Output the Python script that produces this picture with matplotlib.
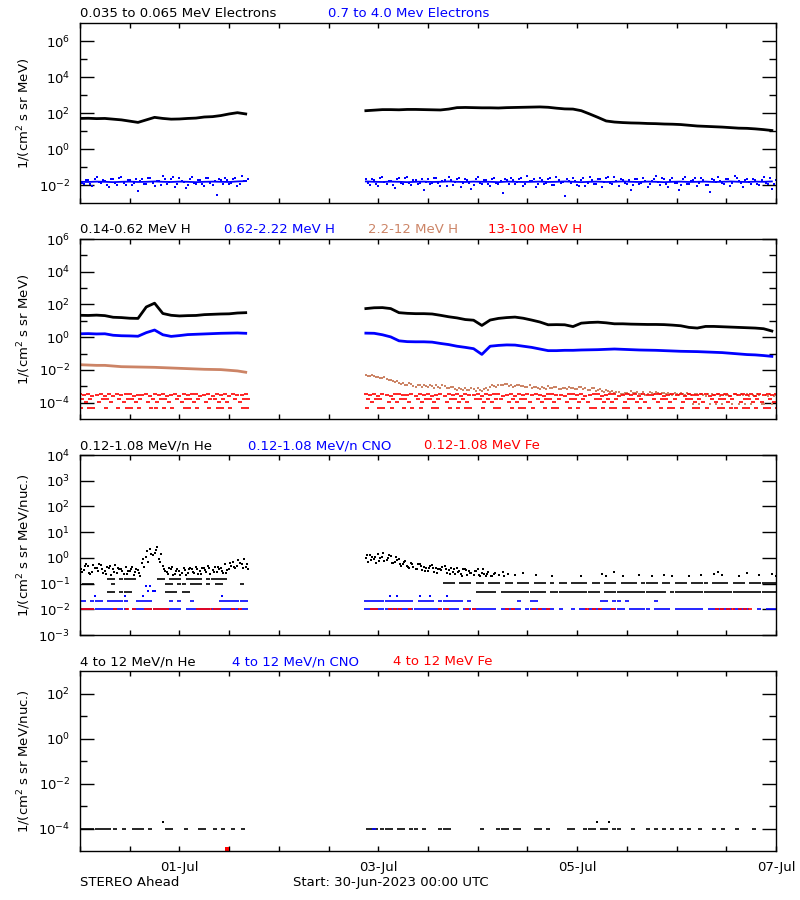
import numpy as np
import matplotlib
matplotlib.use('Agg')
import matplotlib.pyplot as plt
from matplotlib.ticker import NullFormatter

plt.rcParams['font.family'] = 'DejaVu Sans'
plt.rcParams['font.size'] = 9.5
plt.rcParams['mathtext.default'] = 'regular'

nan = np.nan

# ---- time bases (hours from 30-Jun-2023 00:00 UTC) ----
h1 = np.arange(0, 41)          # hourly, first segment
h2 = np.arange(69, 169)        # hourly, second segment
h1s = np.arange(0, 41, 2)      # 2-hourly, first segment
h2s = np.arange(69, 168, 2)    # 2-hourly, second segment

day_ticks = np.arange(0, 7.01, 0.5)
day_labels = ['', '', '01-Jul', '', '', '', '03-Jul', '', '', '', '05-Jul', '', '', '', '07-Jul']

# ---- panel 1: electrons (log10 flux) ----
e_low_1 = [1.70, 1.71, 1.69, 1.70, 1.66, 1.62, 1.55, 1.48, 1.62, 1.76, 1.70,
           1.66, 1.67, 1.70, 1.72, 1.78, 1.80, 1.86, 1.95, 2.02, 1.95]
e_low_2 = [2.13, 2.16, 2.19, 2.19, 2.18, 2.20, 2.20, 2.19, 2.18, 2.17,
           2.22, 2.30, 2.31, 2.30, 2.29, 2.29, 2.28, 2.30, 2.31, 2.32,
           2.33, 2.34, 2.32, 2.27, 2.23, 2.22, 2.13, 1.95, 1.76, 1.56,
           1.50, 1.47, 1.45, 1.44, 1.42, 1.41, 1.39, 1.38, 1.36, 1.32,
           1.28, 1.26, 1.24, 1.22, 1.19, 1.16, 1.15, 1.12, 1.08, 1.03]

e_high_core_1 = [-1.82, -1.83, -1.81, -1.82, -1.84, -1.82, -1.81, -1.83, -1.82, -1.80, -1.82,
                 -1.83, -1.81, -1.82, -1.84, -1.82, -1.81, -1.82, -1.83, -1.80, -1.78]
e_high_core_2 = [-1.80, -1.82, -1.83, -1.81, -1.82, -1.84, -1.82, -1.81, -1.83, -1.82,
                 -1.80, -1.82, -1.83, -1.81, -1.82, -1.82, -1.84, -1.81, -1.82, -1.83,
                 -1.82, -1.81, -1.83, -1.82, -1.80, -1.82, -1.84, -1.82, -1.81, -1.83,
                 -1.82, -1.80, -1.82, -1.83, -1.81, -1.82, -1.84, -1.82, -1.81, -1.83,
                 -1.82, -1.81, -1.83, -1.82, -1.80, -1.82, -1.83, -1.81, -1.82, -1.80]
e_high_1 = [-1.62, -1.95, -1.70, -2.05, -1.58, -1.90, -1.75, -2.10, -1.66, -1.98,
            -1.55, -2.02, -1.72, -1.88, -2.35, -1.64, -1.93, -1.60, -2.08, -1.76,
            -1.52, -1.97, -1.68, -2.12, -1.63, -1.85, -2.00, -1.57, -1.92, -1.70,
            -2.06, -1.61, -1.99, -2.55, -1.73, -1.59, -1.94, -1.67, -2.04, -1.50, -1.80]
e_high_2 = [-1.65, -1.98, -1.72, -2.06, -1.58, -1.92, -1.76, -2.15, -1.62, -1.95,
            -1.55, -2.02, -1.70, -1.88, -2.30, -1.66, -1.91, -1.60, -2.08, -1.74,
            -1.53, -1.99, -1.68, -2.10, -1.64, -1.86, -2.00, -1.57, -1.94, -1.71,
            -2.05, -1.61, -1.97, -2.45, -1.73, -1.59, -1.93, -1.67, -2.03, -1.50,
            -1.78, -2.12, -1.63, -1.96, -1.69, -2.01, -1.56, -1.90, -2.60, -1.75,
            -1.62, -1.99, -1.71, -2.07, -1.58, -1.94, -1.66, -2.11, -1.60, -1.89,
            -1.54, -2.04, -1.72, -1.92, -2.28, -1.65, -1.97, -1.59, -2.09, -1.77,
            -1.52, -2.00, -1.69, -2.13, -1.63, -1.87, -2.02, -1.56, -1.95, -1.70,
            -2.06, -1.60, -1.98, -2.40, -1.74, -1.58, -1.91, -1.68, -2.05, -1.51,
            -1.79, -2.10, -1.64, -1.96, -1.70, -2.00, -1.57, -1.93, -2.20, -1.72]
e_high_c_1 = [-1.88, -1.70, -1.96, -1.64, -1.85, -1.74, -2.00, -1.68, -1.91, -1.60,
              -1.86, -1.72, -1.98, -1.66, -1.80, -1.94, -1.62, -1.89, -1.76, -2.02,
              -1.69, -1.84, -1.58, -1.92, -1.75, -2.18, -1.67, -1.87, -1.73, -1.97,
              -1.63, -1.90, -1.78, -1.65, -1.96, -1.71, -1.86, -1.60, -1.93, -1.77, -1.66]
e_high_c_2 = [-1.86, -1.69, -1.95, -1.63, -1.84, -1.75, -1.99, -1.67, -1.90, -1.61,
              -1.87, -1.73, -1.97, -1.65, -1.81, -1.93, -1.62, -1.88, -1.76, -2.03,
              -1.70, -1.85, -1.59, -1.91, -1.74, -2.20, -1.68, -1.86, -1.72, -1.96,
              -1.64, -1.89, -1.77, -1.66, -1.95, -1.70, -1.85, -1.61, -1.92, -1.78,
              -1.67, -1.94, -1.73, -1.88, -1.60, -1.98, -1.71, -1.84, -1.65, -1.90,
              -1.79, -2.05, -1.63, -1.87, -1.74, -1.96, -1.68, -1.83, -1.58, -1.93,
              -1.76, -1.66, -1.91, -1.72, -2.00, -1.64, -1.86, -1.77, -1.95, -1.69,
              -1.85, -1.62, -1.97, -1.73, -1.89, -2.25, -1.67, -1.92, -1.75, -1.61,
              -1.88, -1.70, -1.99, -1.65, -1.84, -1.78, -1.94, -1.68, -1.87, -1.60,
              -1.91, -1.74, -1.82, -1.66, -1.96, -1.71, -1.89, -1.63, -1.93, -1.76]

# ---- panel 2: protons ----
p1_1 = [1.34, 1.33, 1.35, 1.32, 1.22, 1.20, 1.16, 1.15, 1.85, 2.08, 1.45,
        1.34, 1.30, 1.32, 1.33, 1.38, 1.40, 1.42, 1.43, 1.48, 1.50]
p1_2 = [1.75, 1.80, 1.81, 1.75, 1.50, 1.46, 1.44, 1.44, 1.42, 1.34,
        1.25, 1.18, 1.08, 1.04, 0.72, 1.05, 1.15, 1.20, 1.23, 1.16,
        1.05, 0.93, 0.76, 0.77, 0.76, 0.65, 0.86, 0.90, 0.92, 0.88,
        0.82, 0.82, 0.80, 0.79, 0.78, 0.78, 0.77, 0.74, 0.70, 0.60,
        0.56, 0.66, 0.66, 0.64, 0.62, 0.60, 0.58, 0.56, 0.52, 0.38]
p2_1 = [0.21, 0.22, 0.20, 0.21, 0.12, 0.09, 0.08, 0.06, 0.28, 0.44, 0.15,
        0.05, 0.10, 0.16, 0.18, 0.20, 0.22, 0.24, 0.25, 0.26, 0.24]
p2_2 = [0.25, 0.24, 0.15, 0.02, -0.22, -0.27, -0.28, -0.28, -0.30, -0.38,
        -0.45, -0.55, -0.62, -0.70, -1.05, -0.55, -0.50, -0.47, -0.48, -0.55,
        -0.62, -0.72, -0.82, -0.82, -0.80, -0.80, -0.78, -0.77, -0.76, -0.74,
        -0.72, -0.74, -0.76, -0.78, -0.79, -0.80, -0.82, -0.84, -0.86, -0.87,
        -0.88, -0.90, -0.92, -0.94, -0.98, -1.02, -1.06, -1.08, -1.12, -1.17]
p3_1 = [-1.68, -1.70, -1.72, -1.72, -1.76, -1.80, -1.81, -1.82, -1.83, -1.84, -1.86,
        -1.88, -1.90, -1.92, -1.94, -1.96, -1.97, -1.98, -2.02, -2.06, -2.14]
p3_2 = [-2.30, -2.35, -2.40, -2.45, -2.50, -2.58, -2.64, -2.72, -2.78, -2.82,
        -2.90, -2.85, -3.02, -2.95, -2.92, -3.05, -2.98, -2.90, -3.08, -3.00,
        -3.12, -3.05, -3.22, -3.15, -3.10, -3.25, -3.18, -3.08, -3.30, -3.12,
        -3.05, -2.98, -2.90, -2.95, -2.88, -2.92, -3.00, -2.90, -2.96, -3.02,
        -3.10, -3.04, -3.15, -3.08, -3.00, -3.12, -3.06, -3.18, -3.10, -3.02,
        -3.08, -3.15, -3.05, -3.12, -3.20, -3.10, -3.25, -3.30, -3.22, -3.35,
        -3.40, -3.32, -3.45, -3.38, -3.30, -3.42, -3.50, -3.36, -3.44, -3.40,
        -3.35, -3.48, -3.42, -3.38, -3.52, -3.45, -3.40, -3.55, -3.48, -4.10,
        -3.50, -3.45, -3.58, -4.10, -3.52, -3.48, -4.10, -3.55, -3.60, -3.50,
        -4.10, -3.55, -3.48, -4.10, -3.58, -3.52, -4.10, -3.60, -4.10, -3.55]
p3b_2 = [-2.38, -2.28, -2.46, -2.52, -2.44, -2.62, -2.70, -2.66, -2.85, -2.92,
         -2.82, -3.00, -2.92, -3.05, -3.00, -2.95, -3.08, -3.02, -2.92, -3.10,
         -3.05, -3.18, -3.10, -3.25, -3.20, -3.12, -3.28, -3.22, -3.15, -3.20,
         -2.95, -3.05, -2.95, -2.88, -2.98, -3.02, -2.92, -3.00, -3.05, -2.95,
         -3.02, -3.12, -3.06, -3.15, -3.10, -3.02, -3.18, -3.08, -3.15, -3.12,
         -3.15, -3.05, -3.18, -3.22, -3.12, -3.28, -3.18, -3.35, -3.30, -3.28,
         -3.35, -3.45, -3.38, -3.48, -3.42, -3.35, -3.44, -3.52, -3.36, -3.48,
         -3.42, -3.38, -3.50, -3.45, -3.40, -3.55, -3.48, -3.40, -3.52, -3.45,
         -4.10, -3.55, -3.48, -3.50, -4.10, -3.58, -3.45, -3.52, -4.10, -3.56,
         -3.50, -4.10, -3.58, -3.52, -3.48, -4.10, -3.55, -3.50, -3.60, -4.10]
p4a_1 = [-3.50, -3.55, -3.48, -3.60, -3.52, -3.46, -3.58, -3.50, -3.62, -3.48,
         -3.55, -3.50, -3.45, -3.60, -3.52, -3.56, -3.48, -3.60, -3.50, -3.54,
         -3.46, -3.58, -3.52, -3.50, -3.62, -3.48, -3.55, -3.50, -3.46, -3.58,
         -3.52, -3.50, -3.60, -3.47, -3.55, -3.50, -3.58, -3.46, -3.52, -3.56, -3.50]
p4a_2 = [-3.48, -3.55, -3.50, -3.60, -3.46, -3.52, -3.58, -3.50, -3.45, -3.56,
         -3.52, -3.48, -3.60, -3.50, -3.55, -3.46, -3.58, -3.52, -3.50, -3.62,
         -3.48, -3.54, -3.50, -3.58, -3.46, -3.52, -3.56, -3.50, -3.60, -3.48,
         -3.55, -3.50, -3.46, -3.58, -3.52, -3.50, -3.60, -3.48, -3.54, -3.50,
         -3.56, -3.46, -3.52, -3.60, -3.50, -3.48, -3.55, -3.52, -3.58, -3.46,
         -3.50, -3.56, -3.48, -3.60, -3.52, -3.50, -3.46, -3.58, -3.54, -3.50,
         -3.48, -3.60, -3.52, -3.46, -3.55, -3.50, -3.58, -3.48, -3.52, -3.56,
         -3.50, -3.46, -3.60, -3.52, -3.48, -3.55, -3.50, -3.58, -3.46, -3.52,
         -3.56, -3.50, -3.48, -3.60, -3.52, -3.46, -3.55, -3.50, -3.58, -3.48,
         -3.52, -3.45, -3.56, -3.50, -3.60, -3.48, -3.52, -3.46, -3.55, -3.50]
p4b_1 = [-3.80, -3.95, -3.80, nan, -3.95, -3.80, -3.80, -3.95, nan, -3.80,
         -3.95, -3.80, -3.80, -3.95, -3.80, nan, -3.95, -3.80, -3.95, -3.80,
         -3.80, -3.95, nan, -3.80, -3.95, -3.80, -3.80, -3.95, -3.80, nan,
         -3.95, -3.80, -3.80, -3.95, -3.80, -3.95, nan, -3.80, -3.95, -3.80, -3.80]
p4b_2 = [-3.80, -3.95, -3.80, -3.80, nan, -3.95, -3.80, -3.95, -3.80, -3.80,
         -3.95, nan, -3.80, -3.95, -3.80, -3.80, -3.95, -3.80, nan, -3.95,
         -3.80, -3.80, -3.95, -3.80, -3.95, nan, -3.80, -3.80, -3.95, -3.80,
         -3.95, -3.80, -3.80, nan, -3.95, -3.80, -3.95, -3.80, -3.80, -3.95,
         nan, -3.80, -3.95, -3.80, -3.80, -3.95, -3.80, nan, -3.95, -3.80,
         -3.80, -3.95, -3.80, -3.95, nan, -3.80, -3.80, -3.95, -3.80, -3.95,
         -3.80, nan, -3.95, -3.80, -3.80, -3.95, -3.80, -3.95, nan, -3.80,
         -3.95, -3.80, -3.80, -3.95, -3.80, nan, -3.95, -3.80, -3.80, -3.95,
         -3.80, -3.95, nan, -3.80, -3.95, -3.80, -3.80, -3.95, -3.80, nan,
         -3.95, -3.80, -3.80, -3.95, -3.80, -3.95, nan, -3.80, -3.95, -3.80]
p4c_1 = [-4.30, nan, -4.30, -4.30, nan, nan, -4.30, nan, nan, -4.30,
         nan, -4.30, -4.30, nan, -4.30, nan, nan, -4.30, -4.30, nan,
         -4.30, nan, -4.30, nan, nan, -4.30, -4.30, nan, -4.30, nan,
         nan, -4.30, nan, -4.30, -4.30, nan, -4.30, nan, nan, -4.30, -4.30]
p4c_2 = [-4.30, nan, nan, -4.30, -4.30, nan, -4.30, nan, nan, -4.30,
         nan, -4.30, nan, -4.30, nan, nan, -4.30, -4.30, nan, nan,
         -4.30, nan, -4.30, nan, -4.30, -4.30, nan, nan, -4.30, nan,
         nan, -4.30, -4.30, nan, nan, -4.30, nan, -4.30, -4.30, nan,
         -4.30, nan, nan, -4.30, nan, -4.30, -4.30, nan, nan, -4.30,
         nan, -4.30, nan, nan, -4.30, -4.30, nan, -4.30, nan, -4.30,
         -4.30, nan, -4.30, -4.30, nan, nan, -4.30, nan, -4.30, nan,
         nan, -4.30, nan, -4.30, -4.30, nan, -4.30, nan, nan, -4.30,
         -4.30, nan, -4.30, nan, nan, -4.30, -4.30, nan, -4.30, -4.30,
         nan, -4.30, -4.30, nan, -4.30, nan, -4.30, -4.30, nan, -4.30]

# ---- panel 3: low-energy heavy ions ----
he_a_1 = [-0.35, -0.48, -0.30, -0.55, -0.40, -0.28, -0.50, -0.38, -0.45, -0.60,
          -0.42, -0.35, -0.52, -0.66, -0.48, -0.20, 0.05, 0.35, 0.20, -0.05,
          -0.30, -0.55, -0.45, -0.62, -0.50, -0.40, -0.58, -0.44, -0.36, -0.52,
          -0.40, -0.30, -0.46, -0.55, -0.38, -0.25, -0.42, -0.15, -0.30, -0.22, -0.35]
he_b_1 = [-0.55, -0.25, -0.62, -0.40, -0.22, -0.58, -0.35, -0.66, -0.28, -0.45,
          -0.62, -0.50, -0.35, -0.45, -0.70, -0.35, -0.15, 0.10, 0.42, 0.15,
          -0.50, -0.40, -0.65, -0.42, -0.58, -0.68, -0.38, -0.60, -0.62, -0.40,
          -0.55, -0.62, -0.35, -0.45, -0.60, -0.48, -0.30, -0.40, -0.20, -0.05, -0.45]
he_c_1 = [-0.45, -0.32, -0.60, -0.28, -0.50, -0.42, -0.62, -0.30, -0.55, -0.38,
          -0.50, -0.62, -0.42, -0.55, -0.60, -0.05, 0.25, 0.15, 0.30, -0.15,
          -0.42, -0.62, -0.35, -0.52, -0.66, -0.48, -0.45, -0.55, -0.42, -0.62,
          -0.48, -0.40, -0.55, -0.35, -0.50, -0.60, -0.18, -0.35, -0.10, -0.38, -0.25]
he_a_2 = [0.00, 0.10, -0.05, 0.16, 0.05, -0.10, 0.08, -0.15, -0.05, -0.22,
          -0.30, -0.18, -0.42, -0.25, -0.35, -0.50, -0.28, -0.40, -0.45, -0.32,
          -0.48, -0.55, -0.38, -0.62, -0.45, -0.52, -0.66, -0.42, -0.58, -0.70,
          nan, -0.62, nan, -0.55, nan, nan, -0.66, nan, -0.60, nan,
          nan, -0.68, nan, nan, nan, -0.72, nan, nan, nan, nan,
          nan, nan, -0.70, nan, nan, nan, nan, -0.62, -0.70, nan,
          -0.55, nan, -0.72, nan, nan, nan, -0.68, nan, nan, -0.70,
          nan, nan, -0.66, nan, -0.72, nan, nan, nan, -0.70, nan,
          nan, -0.68, nan, nan, -0.62, -0.55, -0.66, nan, nan, nan,
          -0.72, nan, -0.60, nan, nan, -0.68, nan, nan, -0.62, -0.72]
# second and third samples of each hour, only while the cloud lasts (69-103 h)
he_b_2 = [-0.15, 0.05, -0.20, 0.00, -0.12, 0.12, -0.18, -0.08, -0.30, -0.12,
          -0.40, -0.35, -0.22, -0.48, -0.38, -0.30, -0.55, -0.45, -0.35, -0.60,
          -0.40, -0.62, -0.50, -0.45, -0.68, -0.58, -0.50, -0.72, -0.62, -0.55,
          -0.70]
he_c_2 = [0.12, -0.08, 0.05, -0.12, 0.18, -0.02, -0.20, 0.02, -0.25, -0.15,
          -0.35, -0.22, -0.45, -0.30, -0.52, -0.40, -0.38, -0.58, -0.48, -0.42,
          -0.62, -0.45, -0.55, -0.70, -0.48, -0.60, -0.52, -0.66, -0.45, -0.62,
          -0.72, -0.58, -0.66, -0.70, -0.62]
he_r1_1 = [nan, nan, nan, nan, nan, nan, nan, -0.82, -0.82, nan,
           -0.82, -0.82, -0.82, -0.82, nan, nan, nan, nan, nan, -0.82,
           -0.82, nan, -0.82, -0.82, -0.82, nan, -0.82, -0.82, -0.82, -0.82,
           nan, -0.82, -0.82, -0.82, -0.82, -0.82, nan, nan, nan, nan, nan]
he_r2_1 = [nan, -1.01, -1.01, -1.01, nan, nan, nan, nan, -1.01, nan,
           nan, nan, nan, nan, nan, nan, nan, nan, nan, nan,
           nan, -1.01, -1.01, nan, -1.01, -1.01, nan, -1.01, -1.01, -1.01,
           nan, -1.01, nan, -1.01, -1.01, nan, nan, nan, nan, -1.01, nan]
he_r3_1 = [nan, nan, nan, nan, nan, nan, nan, -1.32, -1.32, nan,
           -1.32, -1.32, -1.32, nan, nan, nan, nan, nan, nan, nan,
           nan, -1.32, -1.32, -1.32, nan, -1.32, -1.32, nan, nan, nan,
           nan, nan, nan, nan, nan, nan, nan, nan, nan, nan, nan]
he_r2_2 = [nan, nan, nan, nan, nan, nan, nan, nan, nan, nan,
           nan, nan, nan, nan, nan, nan, nan, nan, nan, -0.99,
           -0.99, -0.99, nan, -0.99, -0.99, -0.99, nan, -0.99, -0.99, nan,
           -0.99, -0.99, -0.99, nan, -0.99, -0.99, nan, -0.99, -0.99, -0.99,
           nan, -0.99, -0.99, -0.99, nan, -0.99, nan, -0.99, -0.99, nan,
           -0.99, -0.99, -0.99, -0.99, nan, -0.99, -0.99, nan, -0.99, -0.99,
           -0.99, nan, -0.99, -0.99, -0.99, -0.99, nan, -0.99, -0.99, -0.99,
           -0.99, nan, -0.99, -0.99, nan, -0.99, -0.99, -0.99, nan, -0.99,
           -0.99, -0.99, -0.99, nan, -0.99, -0.99, -0.99, -0.99, nan, -0.99,
           -0.99, -0.99, nan, -0.99, -0.99, -0.99, -0.99, -0.99, -0.99, -0.99]
he_r3_2 = [nan, nan, nan, nan, nan, nan, nan, nan, nan, nan,
           nan, nan, nan, nan, nan, nan, nan, nan, nan, nan,
           nan, nan, nan, nan, nan, nan, nan, -1.32, -1.32, -1.32,
           -1.32, -1.32, nan, -1.32, -1.32, -1.32, -1.32, -1.32, -1.32, -1.32,
           -1.32, -1.32, -1.32, -1.32, nan, -1.32, -1.32, -1.32, -1.32, -1.32,
           -1.32, -1.32, -1.32, -1.32, -1.32, -1.32, -1.32, nan, -1.32, -1.32,
           -1.32, -1.32, -1.32, -1.32, -1.32, -1.32, -1.32, -1.32, -1.32, -1.32,
           -1.32, -1.32, -1.32, nan, -1.32, -1.32, -1.32, -1.32, -1.32, -1.32,
           -1.32, -1.32, -1.32, -1.32, -1.32, -1.32, -1.32, -1.32, -1.32, -1.32,
           -1.32, -1.32, -1.32, -1.32, -1.32, -1.32, -1.32, -1.32, -1.32, -1.32]
cno_mid_1 = [-1.67, -1.67, nan, -1.67, -1.67, -1.67, nan, -1.67, -1.67, -1.67,
             -1.67, -1.67, nan, nan, -1.67, -1.67, -1.67, -1.67, nan, nan,
             nan, nan, -1.67, nan, -1.67, nan, nan, -1.67, nan, nan,
             nan, nan, nan, nan, -1.67, -1.67, -1.67, -1.67, -1.67, -1.67, -1.67]
cno_mid_2 = [-1.67, -1.67, -1.67, -1.67, -1.67, -1.67, -1.67, -1.67, -1.67, -1.67,
             -1.67, -1.67, nan, -1.67, -1.67, -1.67, -1.67, nan, -1.67, -1.67,
             -1.67, -1.67, -1.67, -1.67, nan, -1.67, nan, nan, nan, nan,
             nan, nan, nan, nan, nan, nan, nan, -1.67, nan, nan,
             -1.67, -1.67, nan, nan, nan, nan, nan, nan, nan, nan,
             nan, nan, nan, nan, nan, nan, nan, -1.67, -1.67, nan,
             -1.67, -1.67, nan, -1.67, nan, nan, nan, nan, nan, nan,
             -1.67, nan, nan, nan, nan, nan, nan, nan, nan, nan,
             nan, nan, nan, nan, nan, nan, nan, nan, nan, nan,
             nan, nan, nan, nan, nan, nan, nan, nan, nan, nan]
cno_lo_1 = [-2.0, -2.0, -2.0, -2.0, -2.0, -2.0, -2.0, -2.0, -2.0, -2.0,
            -2.0, -2.0, nan, -2.0, -2.0, -2.0, -2.0, -2.0, -2.0, -2.0,
            -2.0, -2.0, -2.0, -2.0, -2.0, nan, -2.0, -2.0, -2.0, -2.0,
            -2.0, -2.0, -2.0, -2.0, -2.0, -2.0, -2.0, -2.0, -2.0, -2.0, -2.0]
cno_lo_2 = [-2.0, -2.0, -2.0, -2.0, -2.0, -2.0, -2.0, -2.0, -2.0, -2.0,
            -2.0, -2.0, -2.0, -2.0, -2.0, -2.0, -2.0, -2.0, -2.0, -2.0,
            -2.0, -2.0, -2.0, nan, -2.0, -2.0, -2.0, -2.0, -2.0, -2.0,
            -2.0, -2.0, nan, -2.0, -2.0, -2.0, -2.0, -2.0, nan, -2.0,
            -2.0, -2.0, -2.0, -2.0, -2.0, -2.0, nan, -2.0, nan, nan,
            -2.0, nan, -2.0, -2.0, -2.0, -2.0, -2.0, -2.0, -2.0, -2.0,
            -2.0, -2.0, -2.0, nan, -2.0, -2.0, -2.0, -2.0, -2.0, nan,
            -2.0, -2.0, -2.0, -2.0, nan, -2.0, -2.0, -2.0, -2.0, -2.0,
            -2.0, -2.0, nan, -2.0, -2.0, -2.0, -2.0, -2.0, -2.0, -2.0,
            -2.0, -2.0, -2.0, nan, nan, -2.0, nan, -2.0, -2.0, -2.0]
cno_hi_hours = [3.6, 10.8, 15.3, 16.0, 16.5, 17.0, 17.5, 18.2, 34.2, 74.8, 76.4, 82.1, 84.5, 88.5]
cno_hi_vals = [-1.47, -1.47, -1.47, -1.08, -1.28, -1.08, -1.28, -1.28, -1.47,
               -1.47, -1.47, -1.47, -1.47, -1.47]
fe_hours = [0, 1, 2, 3, 8.5, 11.3, 13, 16, 17, 18, 19, 20, 21, 28.5, 29.5, 30.5, 31.5,
            32.5, 33.5, 37, 38.5, 70.6, 71.5, 74.8, 76, 77.2, 79.7, 87, 88.5, 93.3, 95,
            103, 104.6, 109.5, 111, 113, 122.3, 124, 125.5, 128.7, 153.7, 155, 156.5,
            157.7, 159.3, 160.5, 161.7]
fe_level = -2.0

# ---- panel 4: high-energy heavy ions ----
he4_hours = [0, 1, 2, 3, 4, 5, 6, 7, 8.5, 10.5, 13, 14, 15, 17, 21, 22, 25.7, 29, 30,
             32.6, 34.6, 37, 39.4, 69.5, 70.5, 71.5, 73, 74, 75, 77, 78, 80, 81, 83,
             87, 88, 89, 97, 101, 102, 103, 105, 106, 110, 111, 113, 118, 119, 122,
             123, 124, 126, 127, 129, 130, 133.6, 137, 139, 141, 143, 145, 147, 149.7,
             153, 155.3, 158.5, 162.7]
he4_level = -4.0
he4_hi_hours = [20.1, 124.7, 127.8]
he4_hi_vals = [-3.7, -3.7, -3.7]
cno4_hours = [71.0]
cno4_vals = [-4.0]
fe4_hours = [35.4]
fe4_vals = [-4.92]

BLUE = '#0000ff'
RED = '#ff0000'
SIENNA = '#cc8466'


def line(ax, hours, logv, color, lw=2.0):
    ax.plot(np.asarray(hours) / 24.0, 10 ** np.asarray(logv, float), color=color, lw=lw)


def dots(ax, hours, logv, color, ms=1.8):
    ax.plot(np.asarray(hours) / 24.0, 10 ** np.asarray(logv, float), ls='none',
            marker='s', ms=ms, mew=0, color=color)


def dashes(ax, hours, logv, color):
    ax.plot(np.asarray(hours) / 24.0, 10 ** np.asarray(logv, float), ls='none',
            marker='_', ms=3.2, mew=1.2, color=color)


def setup(ax, lo, hi, major, minor):
    ax.set_yscale('log')
    ax.set_xlim(0, 7)
    ax.set_ylim(10.0 ** lo, 10.0 ** hi)
    ax.set_yticks([10.0 ** m for m in major], ['$10^{%d}$' % m for m in major])
    ax.set_yticks([10.0 ** m for m in minor], minor=True)
    ax.yaxis.set_minor_formatter(NullFormatter())
    ax.tick_params(axis='y', which='major', direction='in', length=10, width=1,
                   right=True, pad=7)
    ax.tick_params(axis='y', which='minor', direction='in', length=5, width=1, right=True)
    ax.set_xticks(day_ticks, [''] * len(day_ticks))
    ax.tick_params(axis='x', which='major', direction='in', length=3.6, width=1, top=True)
    for s in ax.spines.values():
        s.set_linewidth(1.0)


def titles(ax, items):
    for xpx, txt, col in items:
        ax.text((xpx - 80) / 696.0, 1 + 6 / 180.0, txt, color=col,
                transform=ax.transAxes, va='baseline', ha='left')


fig = plt.figure(figsize=(8, 9), dpi=100)
bottoms = [0.7744, 0.5344, 0.2944, 0.0544]
axs = [fig.add_axes([0.1, b, 0.87, 0.2]) for b in bottoms]

# panel 1
ax = axs[0]
setup(ax, -3, 7, [-2, 0, 2, 4, 6], [-1, 1, 3, 5])
line(ax, h1s, e_low_1, 'black')
line(ax, h2s, e_low_2, 'black')
line(ax, h1s, e_high_core_1, BLUE, lw=1.3)
line(ax, h2s, e_high_core_2, BLUE, lw=1.3)
dots(ax, h1, e_high_1, BLUE)
dots(ax, h2, e_high_2, BLUE)
dots(ax, h1 + 0.5, e_high_c_1, BLUE)
dots(ax, h2 + 0.5, e_high_c_2, BLUE)
titles(ax, [(80, '0.035 to 0.065 MeV Electrons', 'black'),
            (328, '0.7 to 4.0 Mev Electrons', BLUE)])
ax.set_ylabel('1/(cm$^2$ s sr MeV)')

# panel 2
ax = axs[1]
setup(ax, -5, 6, [-4, -2, 0, 2, 4, 6], [-3, -1, 1, 3, 5])
line(ax, h1s, p1_1, 'black')
line(ax, h2s, p1_2, 'black')
line(ax, h1s, p2_1, BLUE)
line(ax, h2s, p2_2, BLUE)
line(ax, h1s, p3_1, SIENNA)
dots(ax, h2, p3_2, SIENNA, ms=2.0)
dots(ax, h2 + 0.5, p3b_2, SIENNA, ms=2.0)
dashes(ax, h1, p4a_1, RED)
dashes(ax, h2, p4a_2, RED)
dashes(ax, h1 + 0.5, p4b_1, RED)
dashes(ax, h2 + 0.5, p4b_2, RED)
dashes(ax, h1 + 0.25, p4c_1, RED)
dashes(ax, h2 + 0.25, p4c_2, RED)
titles(ax, [(80, '0.14-0.62 MeV H', 'black'), (224, '0.62-2.22 MeV H', BLUE),
            (368, '2.2-12 MeV H', SIENNA), (488, '13-100 MeV H', RED)])
ax.set_ylabel('1/(cm$^2$ s sr MeV)')

# panel 3
ax = axs[2]
setup(ax, -3, 4, [-3, -2, -1, 0, 1, 2, 3, 4], [])
dots(ax, h1, he_a_1, 'black')
dots(ax, h1 + 0.5, he_b_1, 'black')
dots(ax, h1 + 0.25, he_c_1, 'black')
dots(ax, h2, he_a_2, 'black')
dots(ax, h2[:len(he_b_2)] + 0.5, he_b_2, 'black')
dots(ax, h2[:len(he_c_2)] + 0.25, he_c_2, 'black')
dashes(ax, h1, he_r1_1, 'black')
dashes(ax, h1, he_r2_1, 'black')
dashes(ax, h1, he_r3_1, 'black')
dashes(ax, h2, he_r2_2, 'black')
dashes(ax, h2, he_r3_2, 'black')
dashes(ax, h1, cno_mid_1, BLUE)
dashes(ax, h2, cno_mid_2, BLUE)
dashes(ax, h1, cno_lo_1, BLUE)
dashes(ax, h2, cno_lo_2, BLUE)
dots(ax, cno_hi_hours, cno_hi_vals, BLUE)
dashes(ax, fe_hours, np.full(len(fe_hours), fe_level), RED)
titles(ax, [(80, '0.12-1.08 MeV/n He', 'black'), (248, '0.12-1.08 MeV/n CNO', BLUE),
            (424, '0.12-1.08 MeV Fe', RED)])
ax.set_ylabel('1/(cm$^2$ s sr MeV/nuc.)')

# panel 4
ax = axs[3]
setup(ax, -5, 3, [-4, -2, 0, 2], [-3, -1, 1])
dashes(ax, he4_hours, np.full(len(he4_hours), he4_level), 'black')
dots(ax, he4_hi_hours, he4_hi_vals, 'black')
dashes(ax, cno4_hours, cno4_vals, BLUE)
dots(ax, fe4_hours, fe4_vals, RED, ms=2.2)
titles(ax, [(80, '4 to 12 MeV/n He', 'black'), (232, '4 to 12 MeV/n CNO', BLUE),
            (393, '4 to 12 MeV Fe', RED)])
ax.set_ylabel('1/(cm$^2$ s sr MeV/nuc.)')
ax.set_xticks(day_ticks, day_labels)
ax.tick_params(axis='x', pad=7)

for ax in axs:
    ax.yaxis.set_label_coords(-0.068, 0.5)

fig.text(0.1, 1 - 886 / 900.0, 'STEREO Ahead', va='baseline', ha='left')
fig.text(293 / 800.0, 1 - 886 / 900.0, 'Start: 30-Jun-2023 00:00 UTC', va='baseline', ha='left')

fig.savefig('out.png', dpi=100)
